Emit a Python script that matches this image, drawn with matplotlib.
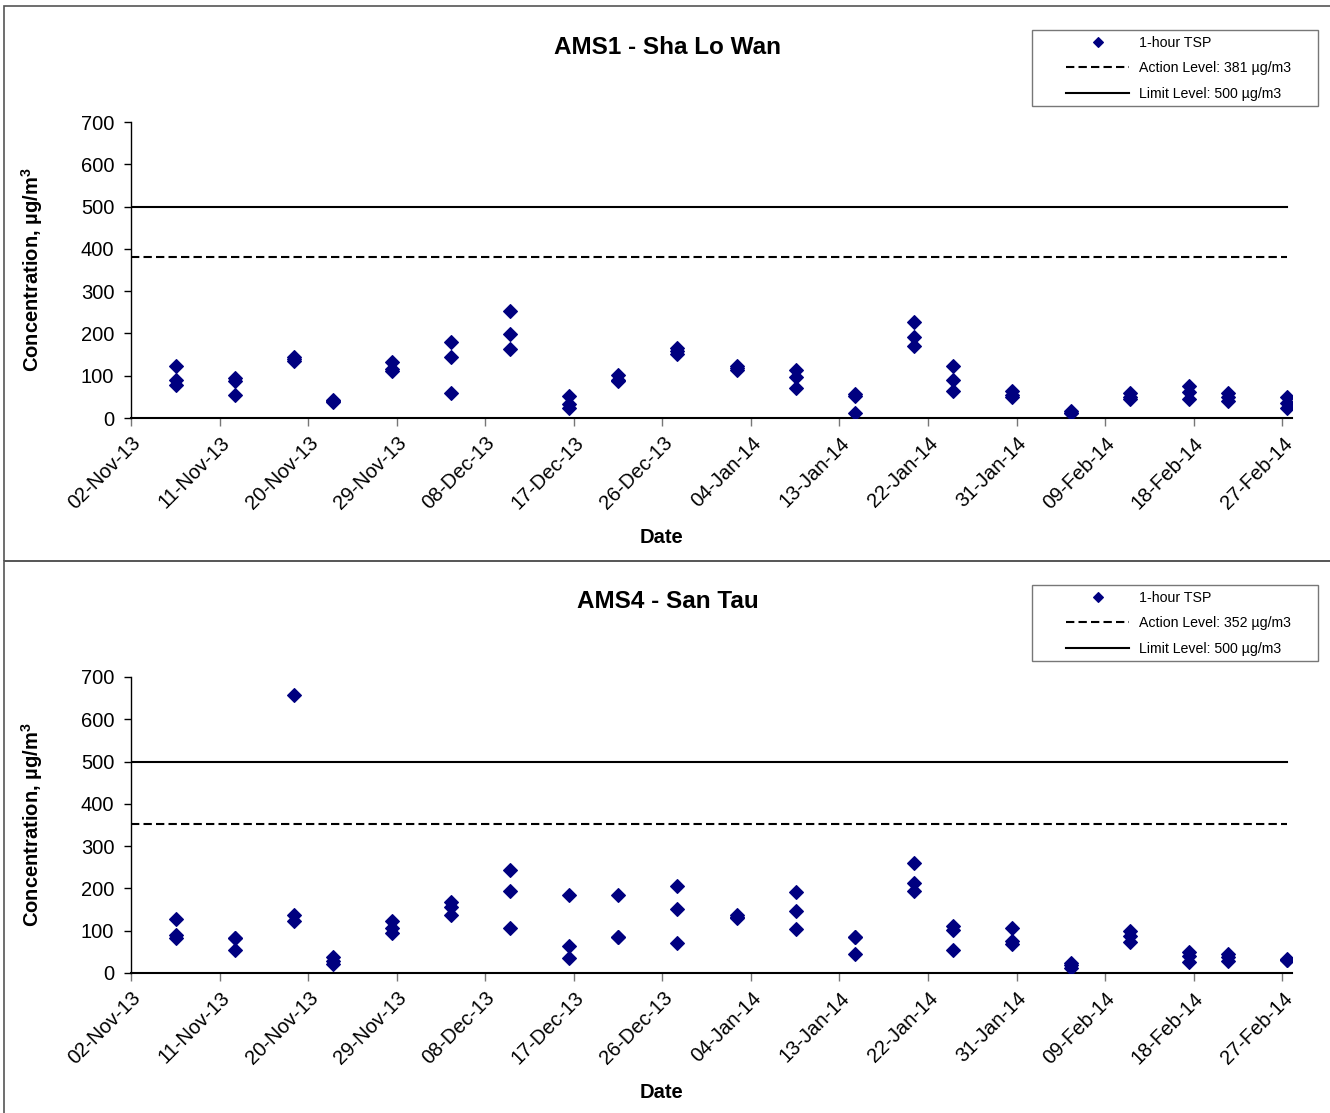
import pandas as pd
import matplotlib
matplotlib.use("Agg")
import matplotlib.pyplot as plt
import matplotlib.dates as mdates
import matplotlib.transforms as mtransforms
from matplotlib.patches import Rectangle

plt.rcParams['font.family'] = ['Liberation Sans', 'DejaVu Sans']
plt.rcParams['mathtext.fontset'] = 'custom'
plt.rcParams['mathtext.rm'] = 'Liberation Sans'
plt.rcParams['mathtext.bf'] = 'Liberation Sans:bold'

# sampling days (1-hour TSP, three readings per day)
dates = ['2013-11-06', '2013-11-12', '2013-11-18', '2013-11-22', '2013-11-28',
         '2013-12-04', '2013-12-10', '2013-12-16', '2013-12-21', '2013-12-27',
         '2014-01-02', '2014-01-08', '2014-01-14', '2014-01-20', '2014-01-24',
         '2014-01-30', '2014-02-05', '2014-02-11', '2014-02-17', '2014-02-21',
         '2014-02-27']

ams1_tsp = [[123, 91, 79], [94, 88, 54], [145, 140, 134], [42, 40, 37],
            [132, 115, 110], [179, 145, 60], [254, 198, 163], [53, 33, 24],
            [101, 91, 87], [165, 158, 151], [124, 119, 114], [113, 97, 70],
            [57, 53, 12], [226, 192, 170], [124, 90, 63], [63, 55, 49],
            [16, 13, 11], [58, 50, 44], [75, 61, 45], [59, 49, 40],
            [49, 35, 24]]

ams4_tsp = [[127, 90, 82], [83, 83, 55], [657, 137, 122], [39, 29, 21],
            [124, 106, 95], [169, 155, 138], [243, 193, 107], [185, 65, 35],
            [185, 84, 84], [206, 152, 72], [136, 133, 131], [191, 146, 105],
            [84, 84, 45], [259, 214, 193], [110, 102, 55], [107, 75, 68],
            [24, 18, 13], [100, 88, 74], [50, 41, 25], [45, 37, 28],
            [33, 31, 30]]

stations = ['AMS1 - Sha Lo Wan', 'AMS4 - San Tau']
action_levels = [381, 352]
limit_level = 500

fig = plt.figure(figsize=(13.3, 11.13), dpi=100)
W, H = 1330, 1113

# chart-area borders
fig.patches.append(Rectangle((4 / W, 1 - 561 / H), 1.1, 555 / H, transform=fig.transFigure,
                             fill=False, edgecolor='#555555', lw=1.2))
fig.patches.append(Rectangle((4 / W, -0.1), 1.1, 1 - 561 / H + 0.1, transform=fig.transFigure,
                             fill=False, edgecolor='#555555', lw=1.2))

day_off = pd.Timedelta(hours=13)
xs = [pd.Timestamp(d) + day_off for d in dates]
ticks = pd.date_range('2013-11-02', '2014-02-27', freq='9D')
x0, x1 = pd.Timestamp('2013-11-02'), pd.Timestamp('2014-02-28')

panel_tops = [122, 677]
for i, (name, vals, act) in enumerate(zip(stations, [ams1_tsp, ams4_tsp], action_levels)):
    top = panel_tops[i]
    ax = fig.add_axes([131 / W, 1 - (top + 296) / H, 1161 / W, 296 / H])
    px, py = [], []
    for x, vs in zip(xs, vals):
        for v in vs:
            px.append(x)
            py.append(v)
    ax.plot(px, py, linestyle='none', marker='D', markersize=6.9, color='#000080',
            markeredgewidth=0.8, label='1-hour TSP', zorder=3)
    ax.axhline(act, xmax=0.996, color='black', lw=1.5, dashes=(4, 2),
               label=f'Action Level: {act} µg/m3')
    ax.axhline(limit_level, xmax=0.996, color='black', lw=1.5,
               label=f'Limit Level: {limit_level} µg/m3')

    ax.set_xlim(x0, x1)
    ax.set_ylim(0, 700)
    ax.set_yticks(range(0, 701, 100))
    ax.set_xticks(ticks)
    ax.xaxis.set_major_formatter(mdates.DateFormatter('%d-%b-%y'))
    for s in ['top', 'right']:
        ax.spines[s].set_visible(False)
    ax.spines['left'].set_linewidth(1.0)
    ax.spines['bottom'].set_linewidth(1.5)
    ax.tick_params(axis='y', labelsize=14.5, length=5, width=1, direction='out', pad=7)
    ax.tick_params(axis='x', labelsize=14.5, length=6, width=1, color='#777777', direction='out')
    offset = mtransforms.ScaledTranslation(7 / 100, -9 / 100, fig.dpi_scale_trans)
    for lab in ax.get_xticklabels():
        lab.set_rotation(45)
        lab.set_ha('right')
        lab.set_va('center')
        lab.set_rotation_mode('anchor')
        lab.set_transform(lab.get_transform() + offset)

    ax.set_xlabel('Date', fontsize=14.5, fontweight='bold')
    ax.set_ylabel(r'Concentration, µg/m$^{\mathbf{3}}$', fontsize=14.5, fontweight='bold')
    ax.yaxis.set_label_coords(-86 / 1161, 0.5)
    ax.xaxis.set_label_coords(0.457, -110 / 296)

    fig.text(668 / W, 1 - (top - 75) / H, name, fontsize=17.5, fontweight='bold',
             ha='center', va='center')

    # legend box
    ltop = top - 92
    fig.patches.append(Rectangle((1032 / W, 1 - (ltop + 76) / H), 286 / W, 76 / H,
                                 transform=fig.transFigure, fill=False,
                                 edgecolor='#777777', lw=1.0))
    leg = ax.legend(loc='upper left', bbox_to_anchor=(1066 / W, 1 - (ltop + 6) / H),
                    bbox_transform=fig.transFigure, frameon=False, fontsize=10.2,
                    handlelength=4.45, handletextpad=0.7, labelspacing=0.8,
                    borderpad=0, borderaxespad=0, numpoints=1, markerscale=0.7)

fig.savefig('out.png', dpi=100)
